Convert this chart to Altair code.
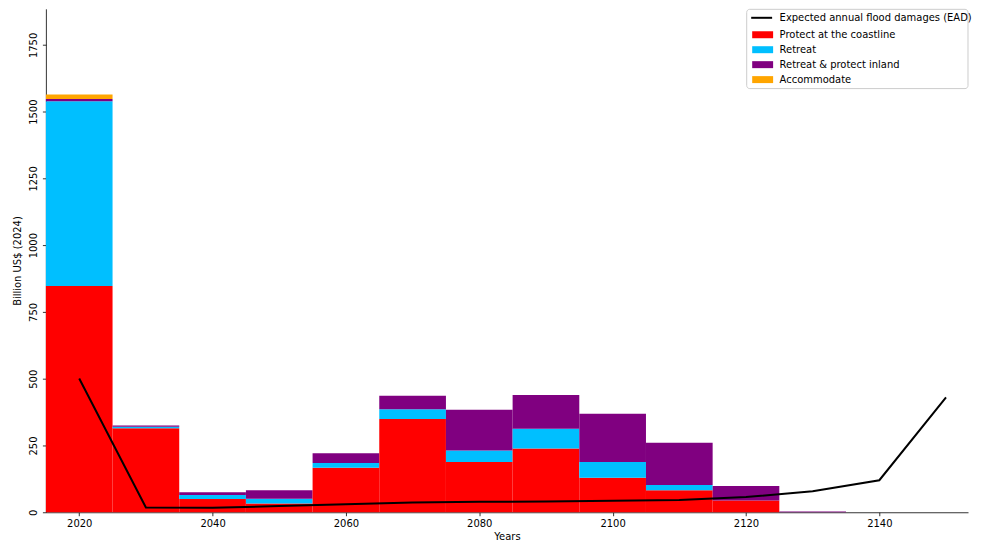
import altair as alt
import pandas as pd

# ---- data ----
years = [2020, 2030, 2040, 2050, 2060, 2070, 2080, 2090, 2100, 2110, 2120, 2130]
protect = [847, 315, 50, 33, 167, 349, 188, 239, 129, 82, 44, 0]
retreat = [692, 5, 15, 18, 17, 37, 43, 74, 59, 20, 0, 0]
retreat_protect = [8, 5, 10, 31, 37, 50, 153, 126, 181, 158, 54, 3]
accommodate = [17, 0, 0, 0, 0, 0, 0, 0, 0, 0, 0, 0]

ead_years = [2020, 2030, 2040, 2050, 2060, 2070, 2080, 2090, 2100, 2110, 2120, 2130, 2140, 2150]
ead = [501, 18, 17, 23, 30, 37, 39, 40, 43, 46, 57, 79, 120, 430]

categories = ["Protect at the coastline", "Retreat", "Retreat & protect inland", "Accommodate"]
colors = ["#ff0000", "#00bfff", "#800080", "#ffa500"]
ead_label = "Expected annual flood damages (EAD)"
x_ticks = [2020, 2040, 2060, 2080, 2100, 2120, 2140]
y_ticks = [0, 250, 500, 750, 1000, 1250, 1500, 1750]

# ---- build stacked table ----
rows = []
series = [protect, retreat, retreat_protect, accommodate]
for i, yr in enumerate(years):
    base = 0
    for cat, vals in zip(categories, series):
        v = vals[i]
        if v > 0:
            rows.append({"start": yr - 5, "end": yr + 5, "y0": base, "y1": base + v, "category": cat})
        base += v
bars_df = pd.DataFrame(rows)
ead_df = pd.DataFrame({"year": ead_years, "value": ead, "series": ead_label})

FONT = "DejaVu Sans"
W, H = 925, 505
xscale = alt.Scale(domain=[2015, 2153.3], nice=False, zero=False)
yscale = alt.Scale(domain=[0, 1885], nice=False)

frame = alt.Chart(pd.DataFrame({"a": [0]})).mark_rect(
    fill="white", stroke="#cccccc", strokeWidth=1, cornerRadius=3
).encode(
    x=alt.value(703), x2=alt.value(925), y=alt.value(0.5), y2=alt.value(80)
)

bars = alt.Chart(bars_df).mark_rect().encode(
    x=alt.X("start:Q", scale=xscale,
            axis=alt.Axis(values=x_ticks, format="d", title="Years",
                          labelPadding=2.5, titlePadding=3)),
    x2="end:Q",
    y=alt.Y("y0:Q", scale=yscale,
            axis=alt.Axis(values=y_ticks, format="d", title="Billion US$ (2024)",
                          labelAngle=270, titlePadding=6)),
    y2="y1:Q",
    fill=alt.Fill("category:N", scale=alt.Scale(domain=categories, range=colors),
                  legend=alt.Legend(title=None, orient="none", legendX=712, legendY=19,
                                    symbolType="M-1.5,-0.5H1.5V0.5H-1.5Z", symbolSize=196,
                                    symbolStrokeWidth=0, symbolOpacity=1,
                                    labelFontSize=10, labelFont=FONT, labelColor="black",
                                    labelLimit=400, rowPadding=3, padding=0, labelOffset=10)),
)

line = alt.Chart(ead_df).mark_line(strokeWidth=2).encode(
    x="year:Q",
    y="value:Q",
    stroke=alt.Stroke("series:N", scale=alt.Scale(domain=[ead_label], range=["black"]),
                      legend=alt.Legend(title=None, orient="none", legendX=710, legendY=1,
                                        symbolType="M-1.5,0H1.5", symbolSize=196,
                                        symbolStrokeWidth=2,
                                        labelFontSize=10, labelFont=FONT, labelColor="black",
                                        labelLimit=400, rowPadding=3, padding=0, labelOffset=10)),
)

chart = alt.layer(frame, bars, line).properties(
    width=W, height=H, padding={"left": 5, "top": 0, "right": 0, "bottom": 0}
).configure_view(stroke=None).configure_axis(
    grid=False, domainColor="black", domainWidth=0.8, tickColor="black", tickWidth=0.8,
    tickSize=3.5, labelPadding=3.5, labelFont=FONT, labelFontSize=10, labelColor="black",
    titleFont=FONT, titleFontSize=10, titleFontWeight="normal", titleColor="black",
    titlePadding=4
)

chart.save("out.html", embed_options={"renderer": "svg", "actions": False})
